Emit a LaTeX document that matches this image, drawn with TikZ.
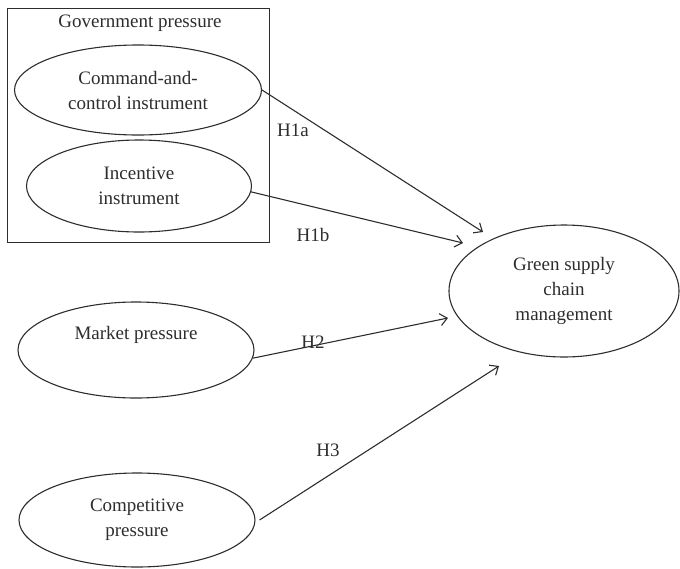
\documentclass[tikz,border=0pt]{standalone}
\usepackage{fontspec}
\setmainfont{Liberation Serif}
\usepackage{tikz}
\usetikzlibrary{shapes.geometric, arrows.meta, positioning}
\definecolor{inkgray}{RGB}{45,45,45}
\tikzstyle{construct} = [ellipse, draw=inkgray, line width=1.1pt, inner sep=0pt, align=center, text=inkgray]
\tikzstyle{arrow} = [line width=1.1pt, draw=inkgray, -{Straight Barb[length=7pt, width=12pt, line width=1.1pt]}]

\begin{document}
\begin{tikzpicture}[
    x=1pt, y=1pt,
    font=\fontsize{19}{25}\selectfont,
    group/.style={rectangle, draw=inkgray, line width=1pt, minimum width=262pt, minimum height=234pt, inner sep=0pt},
    hyp/.style={text=inkgray}
]
\useasboundingbox (0,0) rectangle (680,-568);

% Government pressure group
\node[group] (gov) at (138,-125) {};
\node[hyp] (govtitle) at (140,-23) {Government pressure};
\node[construct, minimum width=247pt, minimum height=90pt] (cci) at (138,-90) {Command-and-\\control instrument};
\node[construct, minimum width=225pt, minimum height=92pt] (inc) at (139,-186) {Incentive\\instrument};

% Other pressures
\node[construct, minimum width=236pt, minimum height=96pt] (market) at (136,-350) {};
\node[hyp] (markettext) at (136,-335) {Market pressure};
\node[construct, minimum width=236pt, minimum height=94pt] (comp) at (137,-520) {Competitive\\pressure};

% Outcome
\node[construct, minimum width=230pt, minimum height=132pt] (gscm) at (564,-291) {Green supply\\chain\\management};

% Arrow ends
\coordinate (endA) at (483,-232);
\coordinate (endB) at (463,-243);
\coordinate (endM) at (448,-318);
\coordinate (endC) at (499,-366);

% Hypotheses
\draw[arrow] (cci.east) -- (endA);
\draw[arrow] (inc.-3) -- (endB);
\draw[arrow] (market.-4) -- (endM);
\draw[arrow] ([xshift=4pt]comp.east) -- (endC);

\node[hyp] (h1a) at (293,-130) {H1a};
\node[hyp] (h1b) at (313,-235) {H1b};
\node[hyp] (h2) at (313,-342) {H2};
\node[hyp] (h3) at (328,-450) {H3};

\end{tikzpicture}
\end{document}
